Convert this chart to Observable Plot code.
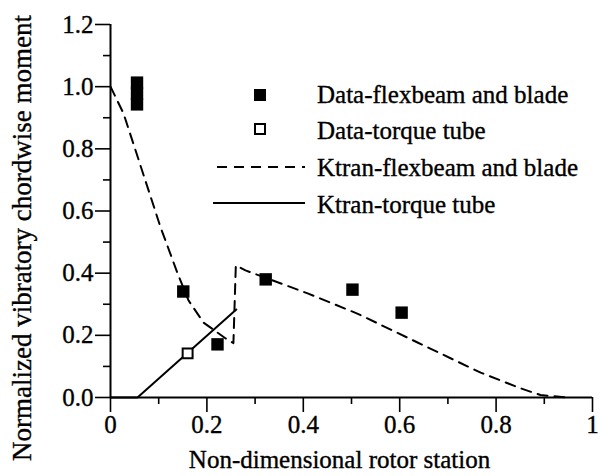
<!DOCTYPE html>
<html>
<head>
<meta charset="utf-8">
<script src="https://cdn.jsdelivr.net/npm/d3@7"></script>
<script src="https://cdn.jsdelivr.net/npm/@observablehq/plot@0.6"></script>
<style>
  html, body { margin: 0; padding: 0; background: white; }
  #wrap { position: relative; width: 602px; height: 476px; }
  #legend { position: absolute; left: 0; top: 0; pointer-events: none; }
  #wrap svg text { stroke: black; stroke-width: 0.35px; }
</style>
</head>
<body>
<div id="wrap"></div>
<script>
// ---- data ----
const xMajorTicks = [0, 0.2, 0.4, 0.6, 0.8, 1];
const xMinorTicks = [0.1, 0.3, 0.5, 0.7, 0.9];
const yMajorTicks = [0, 0.2, 0.4, 0.6, 0.8, 1.0, 1.2];
const yMinorTicks = [0.1, 0.3, 0.5, 0.7, 0.9, 1.1];

const dataFlexX = [0.055, 0.055, 0.055, 0.151, 0.222, 0.322, 0.502, 0.604];
const dataFlexY = [1.013, 0.978, 0.943, 0.341, 0.171, 0.380, 0.347, 0.273];

const dataTorqueX = [0.160];
const dataTorqueY = [0.142];

const ktranFlexX = [0, 0.027, 0.104, 0.139, 0.162, 0.193, 0.239, 0.255, 0.26, 0.28, 0.409, 0.512, 0.637, 0.768, 0.85, 0.892, 0.95];
const ktranFlexY = [1.0, 0.914, 0.547, 0.40, 0.312, 0.241, 0.19, 0.175, 0.425, 0.409, 0.335, 0.27, 0.177, 0.08, 0.03, 0.008, 0];

const ktranTorqueX = [0, 0.056, 0.261];
const ktranTorqueY = [0, 0, 0.283];

const xLabel = "Non-dimensional rotor station";
const yLabel = "Normalized vibratory chordwise moment";
const legendLabels = ["Data-flexbeam and blade", "Data-torque tube", "Ktran-flexbeam and blade", "Ktran-torque tube"];

// ---- tables ----
const zip = (xs, ys) => xs.map((x, i) => ({x, y: ys[i]}));
const dataFlex = zip(dataFlexX, dataFlexY);
const dataTorque = zip(dataTorqueX, dataTorqueY);
const ktranFlex = zip(ktranFlexX, ktranFlexY);
const ktranTorque = zip(ktranTorqueX, ktranTorqueY);

const FONT = "'Liberation Serif', 'Times New Roman', serif";
const DASH = "10,7";

const chart = Plot.plot({
  width: 602,
  height: 476,
  marginLeft: 110,
  marginRight: 10,
  marginTop: 24,
  marginBottom: 79,
  style: {fontFamily: FONT, fontSize: "25px", background: "white", color: "black"},
  x: {domain: [0, 1], label: null},
  y: {domain: [0, 1.2], label: null},
  marks: [
    Plot.axisX(xMajorTicks, {tickSize: 15, tickPadding: 3, strokeWidth: 1.6, tickFormat: d => String(d), label: null}),
    Plot.axisX(xMinorTicks, {tickSize: 7, strokeWidth: 1.6, tickFormat: () => "", label: null}),
    Plot.axisY(yMajorTicks, {tickSize: 15, tickPadding: 2, strokeWidth: 1.6, tickFormat: d3.format(".1f"), label: null}),
    Plot.axisY(yMinorTicks, {tickSize: 7, strokeWidth: 1.6, tickFormat: () => "", label: null}),
    Plot.ruleY([0], {strokeWidth: 2}),
    Plot.ruleX([0], {strokeWidth: 2}),
    Plot.line(ktranFlex, {x: "x", y: "y", stroke: "black", strokeWidth: 2, strokeDasharray: DASH}),
    Plot.line(ktranTorque, {x: "x", y: "y", stroke: "black", strokeWidth: 2}),
    Plot.dot(dataFlex, {x: "x", y: "y", symbol: "square", r: 7, fill: "black", stroke: "none"}),
    Plot.dot(dataTorque, {x: "x", y: "y", symbol: "square", r: 5.6, fill: "white", stroke: "black", strokeWidth: 2}),
    Plot.text([xLabel], {frameAnchor: "bottom", text: d => d, textAnchor: "middle", lineAnchor: "bottom", dx: -12, dy: 70, fontSize: 25, fill: "black"}),
    Plot.text([yLabel], {frameAnchor: "left", text: d => d, textAnchor: "middle", rotate: -90, lineAnchor: "bottom", dx: -80, dy: 27, fontSize: 27, fill: "black"})
  ]
});

const wrap = document.getElementById("wrap");
wrap.appendChild(chart);

// ---- legend overlay ----
const lg = d3.select(wrap).append("svg")
  .attr("id", "legend").attr("width", 602).attr("height", 476)
  .style("font-family", FONT).style("font-size", "25px");
const rows = [
  {label: legendLabels[0], kind: "filled", base: 103, cy: 95},
  {label: legendLabels[1], kind: "open", base: 139, cy: 129},
  {label: legendLabels[2], kind: "dash", base: 176, cy: 167},
  {label: legendLabels[3], kind: "solid", base: 213, cy: 203}
];
rows.forEach(r => {
  if (r.kind === "filled") {
    lg.append("rect").attr("x", 254).attr("y", r.cy - 6).attr("width", 12).attr("height", 12).attr("fill", "black");
  } else if (r.kind === "open") {
    lg.append("rect").attr("x", 255).attr("y", r.cy - 5).attr("width", 10).attr("height", 10)
      .attr("fill", "white").attr("stroke", "black").attr("stroke-width", 2);
  } else {
    lg.append("line").attr("x1", r.kind === "dash" ? 217 : 213).attr("x2", 305).attr("y1", r.cy).attr("y2", r.cy)
      .attr("stroke", "black").attr("stroke-width", 2)
      .attr("stroke-dasharray", r.kind === "dash" ? DASH : null);
  }
  lg.append("text").attr("x", 317).attr("y", r.base).attr("fill", "black").text(r.label);
});
</script>
</body>
</html>
